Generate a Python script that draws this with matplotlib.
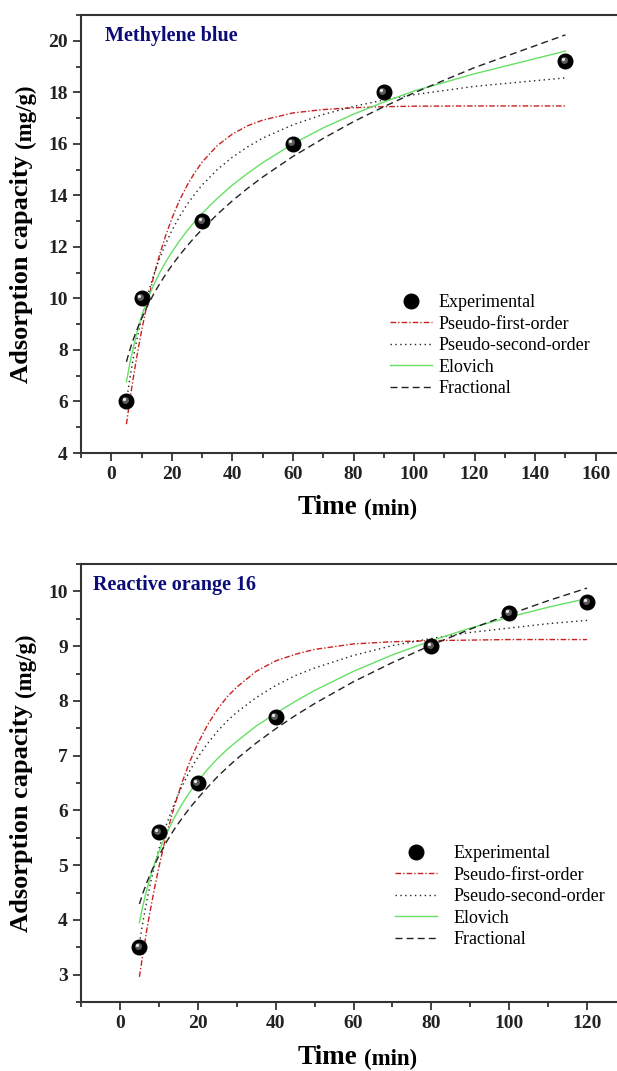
import matplotlib as mpl
mpl.use('Agg')
import matplotlib.pyplot as plt
import matplotlib.transforms as mtransforms
from matplotlib.ticker import MultipleLocator

plt.rcParams['font.family'] = ['Liberation Serif', 'DejaVu Serif']

# ---- Methylene blue data ----
mb_t = [5, 10, 30, 60, 90, 150]
mb_q = [6.0, 10.0, 13.0, 16.0, 18.0, 19.2]
mb_fit_t = [5, 6, 7, 8, 9, 10, 11, 12, 14, 16, 18, 20, 22.5, 25, 27.5, 30, 35, 40, 45, 50,
            60, 70, 80, 90, 100, 120, 150]
mb_pfo = [5.12, 5.94, 6.72, 7.44, 8.11, 8.74, 9.32, 9.87, 10.85, 11.71, 12.45, 13.10, 13.80, 14.38,
          14.87, 15.29, 15.93, 16.38, 16.70, 16.92, 17.20, 17.33, 17.40, 17.44, 17.46, 17.47, 17.47]
mb_pso = [6.00, 6.79, 7.50, 8.14, 8.71, 9.23, 9.71, 10.14, 10.91, 11.57, 12.13, 12.63, 13.17, 13.64,
          14.04, 14.40, 15.00, 15.48, 15.88, 16.22, 16.74, 17.14, 17.45, 17.70, 17.91, 18.23, 18.56]
mb_elo = [6.76, 7.40, 7.95, 8.45, 8.90, 9.30, 9.65, 9.97, 10.52, 11.00, 11.42, 11.80, 12.23, 12.62,
          12.97, 13.30, 13.88, 14.40, 14.85, 15.27, 16.00, 16.62, 17.15, 17.62, 18.05, 18.72, 19.60]
mb_frac = [7.54, 7.95, 8.32, 8.64, 8.94, 9.22, 9.48, 9.72, 10.17, 10.57, 10.94, 11.28, 11.67, 12.03,
           12.37, 12.68, 13.26, 13.79, 14.27, 14.71, 15.51, 16.21, 16.86, 17.44, 17.98, 18.96, 20.23]

# ---- Reactive orange 16 data ----
ro_t = [5, 10, 20, 40, 80, 100, 120]
ro_q = [3.5, 5.6, 6.5, 7.7, 9.0, 9.6, 9.8]
ro_fit_t = [5, 6, 7, 8, 9, 10, 11, 12, 14, 16, 18, 20, 22.5, 25, 27.5, 30, 35, 40, 45, 50,
            60, 70, 80, 90, 100, 110, 120]
ro_pfo = [2.96, 3.42, 3.86, 4.25, 4.62, 4.96, 5.27, 5.57, 6.08, 6.52, 6.90, 7.22, 7.56, 7.84,
          8.07, 8.25, 8.54, 8.73, 8.85, 8.94, 9.04, 9.08, 9.10, 9.11, 9.12, 9.12, 9.12]
ro_pso = [3.57, 4.00, 4.38, 4.72, 5.02, 5.29, 5.53, 5.75, 6.13, 6.45, 6.73, 6.97, 7.22, 7.44,
          7.63, 7.79, 8.06, 8.28, 8.46, 8.60, 8.83, 9.01, 9.14, 9.25, 9.33, 9.41, 9.47]
ro_elo = [3.95, 4.29, 4.58, 4.83, 5.05, 5.24, 5.42, 5.58, 5.87, 6.12, 6.34, 6.53, 6.75, 6.94,
          7.11, 7.26, 7.54, 7.77, 7.99, 8.19, 8.54, 8.84, 9.10, 9.33, 9.53, 9.71, 9.87]
ro_frac = [4.29, 4.51, 4.70, 4.87, 5.02, 5.17, 5.30, 5.43, 5.66, 5.86, 6.05, 6.22, 6.42, 6.61,
           6.78, 6.94, 7.23, 7.49, 7.73, 7.95, 8.35, 8.70, 9.02, 9.31, 9.58, 9.83, 10.06]

labels = ['Experimental', 'Pseudo-first-order', 'Pseudo-second-order', 'Elovich', 'Fractional']

RED = '#cc2020'
GREEN = '#66e066'
DARK = '#222222'
fig = plt.figure(figsize=(6.17, 10.71), dpi=100)


def panel(rect, t, q, ft, pfo, pso, elo, frac, title, titlex, xlim, ylim, xmaj, ymaj, ymin, legxy, textpad):
    ax = fig.add_axes(rect)
    ax.plot(ft, pfo, color=RED, lw=1.0, dashes=(4, 1.5, 1, 1.5))
    ax.plot(ft, pso, color=DARK, lw=1.0, dashes=(1, 2.5))
    ax.plot(ft, elo, color=GREEN, lw=1.0)
    ax.plot(ft, frac, color=DARK, lw=1.0, dashes=(5, 3))
    # spheres: black ball + highlights
    ax.plot(t, q, 'o', color='black', ms=10.5, zorder=5)
    hl1 = mtransforms.offset_copy(ax.transData, fig=fig, x=-1.5, y=1.5, units='dots')
    hl2 = mtransforms.offset_copy(ax.transData, fig=fig, x=-2.5, y=2.5, units='dots')
    ax.plot(t, q, 'o', color='#5a5a5a', ms=5, mew=0, transform=hl1, zorder=6)
    ax.plot(t, q, 'o', color='#e8e8e8', ms=2.3, mew=0, transform=hl2, zorder=7)

    ax.set_xlim(*xlim)
    ax.set_ylim(*ylim)
    ax.xaxis.set_major_locator(MultipleLocator(xmaj))
    ax.xaxis.set_minor_locator(MultipleLocator(xmaj / 2))
    ax.yaxis.set_major_locator(MultipleLocator(ymaj))
    ax.yaxis.set_minor_locator(MultipleLocator(ymin))
    ax.tick_params(which='both', direction='out', width=1.2, colors=DARK, labelsize=14)
    ax.tick_params(which='major', length=6)
    ax.tick_params(which='minor', length=3.5)
    for lab in ax.get_xticklabels() + ax.get_yticklabels():
        lab.set_fontweight('bold')
    for s in ax.spines.values():
        s.set_linewidth(1.5)
        s.set_color('#333333')
    ax.text(titlex, 0.975, title, transform=ax.transAxes, ha='left', va='top',
            fontsize=14.5, fontweight='bold', color='#0c0c78')

    h = [plt.Line2D([], [], ls='none', marker='o', color='black', ms=10.5),
         plt.Line2D([], [], color=RED, lw=1.0, dashes=(4, 1.5, 1, 1.5)),
         plt.Line2D([], [], color=DARK, lw=1.0, dashes=(1, 2.5)),
         plt.Line2D([], [], color=GREEN, lw=1.0),
         plt.Line2D([], [], color=DARK, lw=1.0, dashes=(5, 3))]
    fig.legend(h, labels, loc='upper left', bbox_to_anchor=legxy, frameon=False,
               fontsize=13, handlelength=2.3, handletextpad=textpad, labelspacing=0.25,
               borderpad=0, borderaxespad=0)
    return ax


W = 617.0
H = 1071.0
panel([81 / W, 1 - 453 / H, 545 / W, 438 / H], mb_t, mb_q, mb_fit_t, mb_pfo, mb_pso, mb_elo, mb_frac,
      'Methylene blue', 0.044, (-10, 170), (4, 21), 20, 2, 1, (390 / W, 1 - 294 / H), 0.4)
panel([81 / W, 1 - 1002 / H, 545 / W, 438 / H], ro_t, ro_q, ro_fit_t, ro_pfo, ro_pso, ro_elo, ro_frac,
      'Reactive orange 16', 0.022, (-10, 130), (2.5, 10.5), 20, 1, 0.5, (395 / W, 1 - 845 / H), 0.95)

# axis labels with smaller units
for ybot, ytop, xc in [(383, 148, 22), (932, 697, 22)]:
    fig.text(xc / W, 1 - ybot / H, 'Adsorption capacity', rotation=90, ha='center', va='bottom',
             fontsize=19, fontweight='bold')
    fig.text(xc / W + 0.006, 1 - ytop / H, '(mg/g)', rotation=90, ha='center', va='bottom',
             fontsize=16.5, fontweight='bold')
for yc in [507, 1057]:
    fig.text(357 / W, 1 - yc / H, 'Time', ha='right', va='center', fontsize=19.5, fontweight='bold')
    fig.text(364 / W, 1 - (yc + 2) / H, '(min)', ha='left', va='center', fontsize=16.5, fontweight='bold')

fig.savefig('out.png', dpi=100)
